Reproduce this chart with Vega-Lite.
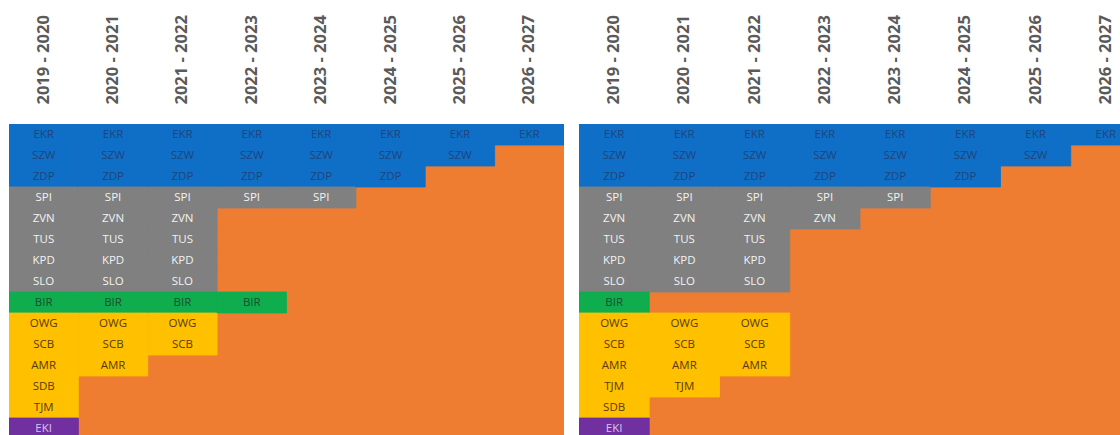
{
  "$schema": "https://vega.github.io/schema/vega-lite/v6.json",
  "padding": {"left": 9, "top": 14, "right": 0, "bottom": 0},
  "autosize": {"type": "pad"},
  "background": "white",
  "config": {
    "view": {"fill": "#EE7D31", "stroke": null},
    "concat": {"spacing": 15},
    "axisX": {
      "orient": "top", "title": null, "labelAngle": 270, "ticks": false, "domain": false,
      "labelFont": "Open Sans", "labelFontWeight": "bold", "labelFontSize": 16.5,
      "labelColor": "#5a5a5a", "labelPadding": 20, "minExtent": 110, "maxExtent": 110
    }
  },
  "data": {"values": [
    {"panel":"L","season":"2019 - 2020","code":"EKR","group":"A"},
    {"panel":"L","season":"2019 - 2020","code":"SZW","group":"A"},
    {"panel":"L","season":"2019 - 2020","code":"ZDP","group":"A"},
    {"panel":"L","season":"2019 - 2020","code":"SPI","group":"B"},
    {"panel":"L","season":"2019 - 2020","code":"ZVN","group":"B"},
    {"panel":"L","season":"2019 - 2020","code":"TUS","group":"B"},
    {"panel":"L","season":"2019 - 2020","code":"KPD","group":"B"},
    {"panel":"L","season":"2019 - 2020","code":"SLO","group":"B"},
    {"panel":"L","season":"2019 - 2020","code":"BIR","group":"C"},
    {"panel":"L","season":"2019 - 2020","code":"OWG","group":"D"},
    {"panel":"L","season":"2019 - 2020","code":"SCB","group":"D"},
    {"panel":"L","season":"2019 - 2020","code":"AMR","group":"D"},
    {"panel":"L","season":"2019 - 2020","code":"SDB","group":"D"},
    {"panel":"L","season":"2019 - 2020","code":"TJM","group":"D"},
    {"panel":"L","season":"2019 - 2020","code":"EKI","group":"E"},
    {"panel":"L","season":"2020 - 2021","code":"EKR","group":"A"},
    {"panel":"L","season":"2020 - 2021","code":"SZW","group":"A"},
    {"panel":"L","season":"2020 - 2021","code":"ZDP","group":"A"},
    {"panel":"L","season":"2020 - 2021","code":"SPI","group":"B"},
    {"panel":"L","season":"2020 - 2021","code":"ZVN","group":"B"},
    {"panel":"L","season":"2020 - 2021","code":"TUS","group":"B"},
    {"panel":"L","season":"2020 - 2021","code":"KPD","group":"B"},
    {"panel":"L","season":"2020 - 2021","code":"SLO","group":"B"},
    {"panel":"L","season":"2020 - 2021","code":"BIR","group":"C"},
    {"panel":"L","season":"2020 - 2021","code":"OWG","group":"D"},
    {"panel":"L","season":"2020 - 2021","code":"SCB","group":"D"},
    {"panel":"L","season":"2020 - 2021","code":"AMR","group":"D"},
    {"panel":"L","season":"2021 - 2022","code":"EKR","group":"A"},
    {"panel":"L","season":"2021 - 2022","code":"SZW","group":"A"},
    {"panel":"L","season":"2021 - 2022","code":"ZDP","group":"A"},
    {"panel":"L","season":"2021 - 2022","code":"SPI","group":"B"},
    {"panel":"L","season":"2021 - 2022","code":"ZVN","group":"B"},
    {"panel":"L","season":"2021 - 2022","code":"TUS","group":"B"},
    {"panel":"L","season":"2021 - 2022","code":"KPD","group":"B"},
    {"panel":"L","season":"2021 - 2022","code":"SLO","group":"B"},
    {"panel":"L","season":"2021 - 2022","code":"BIR","group":"C"},
    {"panel":"L","season":"2021 - 2022","code":"OWG","group":"D"},
    {"panel":"L","season":"2021 - 2022","code":"SCB","group":"D"},
    {"panel":"L","season":"2022 - 2023","code":"EKR","group":"A"},
    {"panel":"L","season":"2022 - 2023","code":"SZW","group":"A"},
    {"panel":"L","season":"2022 - 2023","code":"ZDP","group":"A"},
    {"panel":"L","season":"2022 - 2023","code":"SPI","group":"B"},
    {"panel":"L","season":"2022 - 2023","code":"BIR","group":"C"},
    {"panel":"L","season":"2023 - 2024","code":"EKR","group":"A"},
    {"panel":"L","season":"2023 - 2024","code":"SZW","group":"A"},
    {"panel":"L","season":"2023 - 2024","code":"ZDP","group":"A"},
    {"panel":"L","season":"2023 - 2024","code":"SPI","group":"B"},
    {"panel":"L","season":"2024 - 2025","code":"EKR","group":"A"},
    {"panel":"L","season":"2024 - 2025","code":"SZW","group":"A"},
    {"panel":"L","season":"2024 - 2025","code":"ZDP","group":"A"},
    {"panel":"L","season":"2025 - 2026","code":"EKR","group":"A"},
    {"panel":"L","season":"2025 - 2026","code":"SZW","group":"A"},
    {"panel":"L","season":"2026 - 2027","code":"EKR","group":"A"},
    {"panel":"R","season":"2019 - 2020","code":"EKR","group":"A"},
    {"panel":"R","season":"2019 - 2020","code":"SZW","group":"A"},
    {"panel":"R","season":"2019 - 2020","code":"ZDP","group":"A"},
    {"panel":"R","season":"2019 - 2020","code":"SPI","group":"B"},
    {"panel":"R","season":"2019 - 2020","code":"ZVN","group":"B"},
    {"panel":"R","season":"2019 - 2020","code":"TUS","group":"B"},
    {"panel":"R","season":"2019 - 2020","code":"KPD","group":"B"},
    {"panel":"R","season":"2019 - 2020","code":"SLO","group":"B"},
    {"panel":"R","season":"2019 - 2020","code":"BIR","group":"C"},
    {"panel":"R","season":"2019 - 2020","code":"OWG","group":"D"},
    {"panel":"R","season":"2019 - 2020","code":"SCB","group":"D"},
    {"panel":"R","season":"2019 - 2020","code":"AMR","group":"D"},
    {"panel":"R","season":"2019 - 2020","code":"TJM","group":"D"},
    {"panel":"R","season":"2019 - 2020","code":"SDB","group":"D"},
    {"panel":"R","season":"2019 - 2020","code":"EKI","group":"E"},
    {"panel":"R","season":"2020 - 2021","code":"EKR","group":"A"},
    {"panel":"R","season":"2020 - 2021","code":"SZW","group":"A"},
    {"panel":"R","season":"2020 - 2021","code":"ZDP","group":"A"},
    {"panel":"R","season":"2020 - 2021","code":"SPI","group":"B"},
    {"panel":"R","season":"2020 - 2021","code":"ZVN","group":"B"},
    {"panel":"R","season":"2020 - 2021","code":"TUS","group":"B"},
    {"panel":"R","season":"2020 - 2021","code":"KPD","group":"B"},
    {"panel":"R","season":"2020 - 2021","code":"SLO","group":"B"},
    {"panel":"R","season":"2020 - 2021","code":"OWG","group":"D"},
    {"panel":"R","season":"2020 - 2021","code":"SCB","group":"D"},
    {"panel":"R","season":"2020 - 2021","code":"AMR","group":"D"},
    {"panel":"R","season":"2020 - 2021","code":"TJM","group":"D"},
    {"panel":"R","season":"2021 - 2022","code":"EKR","group":"A"},
    {"panel":"R","season":"2021 - 2022","code":"SZW","group":"A"},
    {"panel":"R","season":"2021 - 2022","code":"ZDP","group":"A"},
    {"panel":"R","season":"2021 - 2022","code":"SPI","group":"B"},
    {"panel":"R","season":"2021 - 2022","code":"ZVN","group":"B"},
    {"panel":"R","season":"2021 - 2022","code":"TUS","group":"B"},
    {"panel":"R","season":"2021 - 2022","code":"KPD","group":"B"},
    {"panel":"R","season":"2021 - 2022","code":"SLO","group":"B"},
    {"panel":"R","season":"2021 - 2022","code":"OWG","group":"D"},
    {"panel":"R","season":"2021 - 2022","code":"SCB","group":"D"},
    {"panel":"R","season":"2021 - 2022","code":"AMR","group":"D"},
    {"panel":"R","season":"2022 - 2023","code":"EKR","group":"A"},
    {"panel":"R","season":"2022 - 2023","code":"SZW","group":"A"},
    {"panel":"R","season":"2022 - 2023","code":"ZDP","group":"A"},
    {"panel":"R","season":"2022 - 2023","code":"SPI","group":"B"},
    {"panel":"R","season":"2022 - 2023","code":"ZVN","group":"B"},
    {"panel":"R","season":"2023 - 2024","code":"EKR","group":"A"},
    {"panel":"R","season":"2023 - 2024","code":"SZW","group":"A"},
    {"panel":"R","season":"2023 - 2024","code":"ZDP","group":"A"},
    {"panel":"R","season":"2023 - 2024","code":"SPI","group":"B"},
    {"panel":"R","season":"2024 - 2025","code":"EKR","group":"A"},
    {"panel":"R","season":"2024 - 2025","code":"SZW","group":"A"},
    {"panel":"R","season":"2024 - 2025","code":"ZDP","group":"A"},
    {"panel":"R","season":"2025 - 2026","code":"EKR","group":"A"},
    {"panel":"R","season":"2025 - 2026","code":"SZW","group":"A"},
    {"panel":"R","season":"2026 - 2027","code":"EKR","group":"A"}
  ]},
  "resolve": {"scale": {"x": "independent", "y": "independent"}},
  "hconcat": [
    {
      "width": 555, "height": 311,
      "transform": [{"filter": "datum.panel === 'L'"}],
      "encoding": {
        "x": {"field": "season", "type": "nominal", "sort": null,
              "scale": {"domain": ["2019 - 2020","2020 - 2021","2021 - 2022","2022 - 2023","2023 - 2024","2024 - 2025","2025 - 2026","2026 - 2027"], "paddingInner": 0, "paddingOuter": 0}},
        "y": {"field": "code", "type": "nominal", "axis": null,
              "scale": {"domain": ["EKR","SZW","ZDP","SPI","ZVN","TUS","KPD","SLO","BIR","OWG","SCB","AMR","SDB","TJM","EKI"], "range": [0, 315], "paddingInner": 0, "paddingOuter": 0}}
      },
      "layer": [
        {"mark": {"type": "rect", "clip": true, "strokeWidth": 0.8},
         "encoding": {
           "color": {"field": "group", "type": "nominal", "legend": null,
                     "scale": {"domain": ["A","B","C","D","E"], "range": ["#0F6FC6","#808080","#10AD4F","#FFC000","#7030A0"]}},
           "stroke": {"field": "group", "type": "nominal", "legend": null,
                     "scale": {"domain": ["A","B","C","D","E"], "range": ["#0F6FC6","#808080","#10AD4F","#FFC000","#7030A0"]}}
         }},
        {"mark": {"type": "text", "clip": true, "font": "Open Sans", "fontSize": 11.5},
         "encoding": {
           "text": {"field": "code"},
           "fill": {"field": "group", "type": "nominal", "legend": null,
                    "scale": {"domain": ["A","B","C","D","E"], "range": ["#1D4580","#F2F2F2","#1B4D2C","#5A3A00","#D8C4F0"]}}
         }}
      ]
    },
    {
      "width": 541, "height": 311,
      "transform": [{"filter": "datum.panel === 'R'"}],
      "encoding": {
        "x": {"field": "season", "type": "nominal", "sort": null,
              "scale": {"domain": ["2019 - 2020","2020 - 2021","2021 - 2022","2022 - 2023","2023 - 2024","2024 - 2025","2025 - 2026","2026 - 2027"], "range": [0, 562], "paddingInner": 0, "paddingOuter": 0}},
        "y": {"field": "code", "type": "nominal", "axis": null,
              "scale": {"domain": ["EKR","SZW","ZDP","SPI","ZVN","TUS","KPD","SLO","BIR","OWG","SCB","AMR","TJM","SDB","EKI"], "range": [0, 315], "paddingInner": 0, "paddingOuter": 0}}
      },
      "layer": [
        {"mark": {"type": "rect", "clip": true, "strokeWidth": 0.8},
         "encoding": {
           "color": {"field": "group", "type": "nominal", "legend": null,
                     "scale": {"domain": ["A","B","C","D","E"], "range": ["#0F6FC6","#808080","#10AD4F","#FFC000","#7030A0"]}},
           "stroke": {"field": "group", "type": "nominal", "legend": null,
                     "scale": {"domain": ["A","B","C","D","E"], "range": ["#0F6FC6","#808080","#10AD4F","#FFC000","#7030A0"]}}
         }},
        {"mark": {"type": "text", "clip": true, "font": "Open Sans", "fontSize": 11.5},
         "encoding": {
           "text": {"field": "code"},
           "fill": {"field": "group", "type": "nominal", "legend": null,
                    "scale": {"domain": ["A","B","C","D","E"], "range": ["#1D4580","#F2F2F2","#1B4D2C","#5A3A00","#D8C4F0"]}}
         }}
      ]
    }
  ]
}
